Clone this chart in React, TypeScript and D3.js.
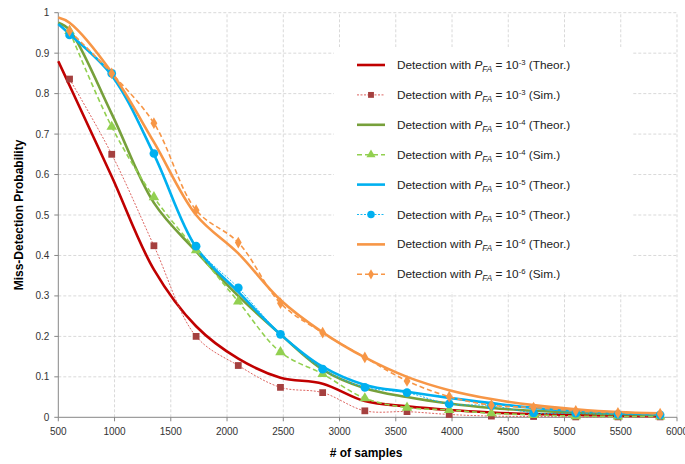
import React from "react";
import * as d3 from "d3";

const simX = [600, 975, 1350, 1725, 2100, 2475, 2850, 3225, 3600, 3975, 4350, 4725, 5100, 5475, 5850];
const theorX = [500, 600, 975, 1350, 1725, 2100, 2475, 2850, 3225, 3600, 3975, 4350, 4725, 5100, 5475, 5850];

const redTheor = [0.88, 0.82, 0.595, 0.365, 0.225, 0.145, 0.098, 0.083, 0.04, 0.027, 0.018, 0.012, 0.008, 0.006, 0.004, 0.003];
const redSim = [0.836, 0.65, 0.424, 0.2, 0.128, 0.074, 0.061, 0.016, 0.014, 0.007, 0.003, 0.002, 0.001, 0.001, 0.001];
const greenTheor = [0.975, 0.957, 0.75, 0.53, 0.41, 0.3, 0.205, 0.118, 0.072, 0.05, 0.034, 0.023, 0.016, 0.011, 0.008, 0.006];
const greenSim = [0.955, 0.718, 0.544, 0.413, 0.286, 0.161, 0.107, 0.047, 0.024, 0.018, 0.01, 0.006, 0.003, 0.002, 0.002];
const blueTheor = [0.972, 0.947, 0.845, 0.65, 0.42, 0.31, 0.205, 0.125, 0.08, 0.063, 0.048, 0.035, 0.023, 0.016, 0.011, 0.008];
const blueSim = [0.945, 0.85, 0.652, 0.423, 0.32, 0.205, 0.119, 0.074, 0.061, 0.033, 0.029, 0.011, 0.01, 0.007, 0.006];
const orangeTheor = [0.988, 0.975, 0.852, 0.68, 0.5, 0.405, 0.29, 0.21, 0.148, 0.1, 0.067, 0.045, 0.03, 0.02, 0.013, 0.01];
const orangeSim = [0.955, 0.85, 0.727, 0.512, 0.432, 0.282, 0.209, 0.148, 0.09, 0.051, 0.03, 0.024, 0.016, 0.011, 0.009];

const xTicks = [500, 1000, 1500, 2000, 2500, 3000, 3500, 4000, 4500, 5000, 5500, 6000];
const yTicks = [0, 0.1, 0.2, 0.3, 0.4, 0.5, 0.6, 0.7, 0.8, 0.9, 1];
const yTickLabels = ["0", "0.1", "0.2", "0.3", "0.4", "0.5", "0.6", "0.7", "0.8", "0.9", "1"];

const legendExps = ["-3", "-3", "-4", "-4", "-5", "-5", "-6", "-6"];
const legendSuffix = ["(Theor.)", "(Sim.)", "(Theor.)", "(Sim.)", "(Theor.)", "(Theor.)", "(Theor.)", "(Sim.)"];

type Series = {
  kind: "theor" | "sim";
  values: number[];
  color: string;
  markerColor?: string;
  width: number;
  dash?: string;
  symbol?: any;
  symSize?: number;
};

const series: Series[] = [
  { kind: "theor", values: redTheor, color: "#C00000", width: 2.6 },
  { kind: "sim", values: redSim, color: "#D9534F", markerColor: "#A5403F", width: 0.9, dash: "2,1.5", symbol: d3.symbolSquare, symSize: 46 },
  { kind: "theor", values: greenTheor, color: "#77A03B", width: 2.6 },
  { kind: "sim", values: greenSim, color: "#92D050", markerColor: "#92D050", width: 1.6, dash: "5,3", symbol: d3.symbolTriangle, symSize: 48 },
  { kind: "theor", values: blueTheor, color: "#00B0F0", width: 2.6 },
  { kind: "sim", values: blueSim, color: "#00B0F0", markerColor: "#00B0F0", width: 0.9, dash: "2,1.5", symbol: d3.symbolCircle, symSize: 60 },
  { kind: "theor", values: orangeTheor, color: "#F79646", width: 2.6 },
  { kind: "sim", values: orangeSim, color: "#F79646", markerColor: "#F79646", width: 1.6, dash: "5,3", symbol: d3.symbolDiamond, symSize: 40 },
];

const FONT = "'Liberation Sans', Arial, sans-serif";

export default function App() {
  const x = d3.scaleLinear().domain([500, 6000]).range([58.3, 677]);
  const y = d3.scaleLinear().domain([0, 1]).range([417.3, 12.7]);
  const curve = d3.curveCatmullRom.alpha(0.5);

  const lineGen = (xs: number[], vs: number[]) =>
    d3
      .line<number>()
      .x((_, i) => x(xs[i]))
      .y((v) => y(v))
      .curve(curve)(vs) || "";

  const legendRowY = (i: number) => 65 + i * 29.9;

  return (
    <svg
      width={685}
      height={464}
      style={{ position: "absolute", left: 0, top: 0, background: "#fff" }}
      fontFamily={FONT}
    >
      <rect x={0} y={0} width={685} height={464} fill="#fff" />
      {yTicks.slice(1).map((t) => (
        <line key={"gy" + t} x1={x(500)} x2={x(6000)} y1={y(t)} y2={y(t)} stroke="#D9D9D9" strokeWidth={1} strokeDasharray="3,2" />
      ))}
      {xTicks.slice(1).map((t) => (
        <line key={"gx" + t} x1={x(t)} x2={x(t)} y1={y(0)} y2={y(1)} stroke="#D9D9D9" strokeWidth={1} strokeDasharray="3,2" />
      ))}
      <line x1={x(500)} x2={x(500)} y1={y(0)} y2={y(1)} stroke="#868686" strokeWidth={1} />
      <line x1={x(500)} x2={x(6000)} y1={y(0)} y2={y(0)} stroke="#868686" strokeWidth={1} />
      {yTicks.map((t) => (
        <line key={"ty" + t} x1={x(500) - 4} x2={x(500)} y1={y(t)} y2={y(t)} stroke="#868686" />
      ))}
      {xTicks.map((t) => (
        <line key={"tx" + t} x1={x(t)} x2={x(t)} y1={y(0)} y2={y(0) + 4} stroke="#868686" />
      ))}
      {yTicks.map((t, i) => (
        <text key={"ly" + t} x={x(500) - 9} y={y(t) + 3.5} fontSize={10} textAnchor="end" fill="#333">
          {yTickLabels[i]}
        </text>
      ))}
      {xTicks.map((t) => (
        <text key={"lx" + t} x={x(t)} y={y(0) + 18} fontSize={10} textAnchor="middle" fill="#333">
          {t}
        </text>
      ))}
      <text x={366} y={457} fontSize={12} fontWeight="bold" textAnchor="middle" fill="#000">
        # of samples
      </text>
      <text transform={`translate(23,${215}) rotate(-90)`} fontSize={12} fontWeight="bold" textAnchor="middle" fill="#000">
        Miss-Detection Probability
      </text>

      {series.map((s, i) => {
        const xs = s.kind === "theor" ? theorX : simX;
        return (
          <path
            key={"s" + i}
            d={lineGen(xs, s.values)}
            fill="none"
            stroke={s.color}
            strokeWidth={s.width}
            strokeDasharray={s.dash}
            strokeLinejoin="round"
          />
        );
      })}
      {series.map((s, i) =>
        s.kind === "sim"
          ? s.values.map((v, j) => (
              <path
                key={"m" + i + "-" + j}
                d={d3.symbol().type(s.symbol).size(s.symSize!)() || ""}
                transform={`translate(${x(simX[j])},${y(v)})`}
                fill={s.markerColor}
              />
            ))
          : null
      )}

      <rect x={334} y={47} width={299} height={245} fill="#fff" />
      {series.map((s, i) => {
        const ry = legendRowY(i);
        return (
          <g key={"lg" + i}>
            <line x1={357} x2={385} y1={ry} y2={ry} stroke={s.color} strokeWidth={s.kind === "theor" ? 2.6 : s.width} strokeDasharray={s.dash} />
            {s.kind === "sim" ? (
              <path d={d3.symbol().type(s.symbol).size(s.symSize! * 0.75)() || ""} transform={`translate(371,${ry})`} fill={s.markerColor} />
            ) : null}
            <text x={397} y={ry + 4} fontSize={11.8} fill="#222">
              <tspan>Detection with </tspan>
              <tspan fontStyle="italic">P</tspan>
              <tspan fontStyle="italic" fontSize={8.2} dy={3}>FA</tspan>
              <tspan dy={-3}> = 10</tspan>
              <tspan fontSize={7.7} dy={-4}>{legendExps[i]}</tspan>
              <tspan dy={4}> {legendSuffix[i]}</tspan>
            </text>
          </g>
        );
      })}
    </svg>
  );
}
